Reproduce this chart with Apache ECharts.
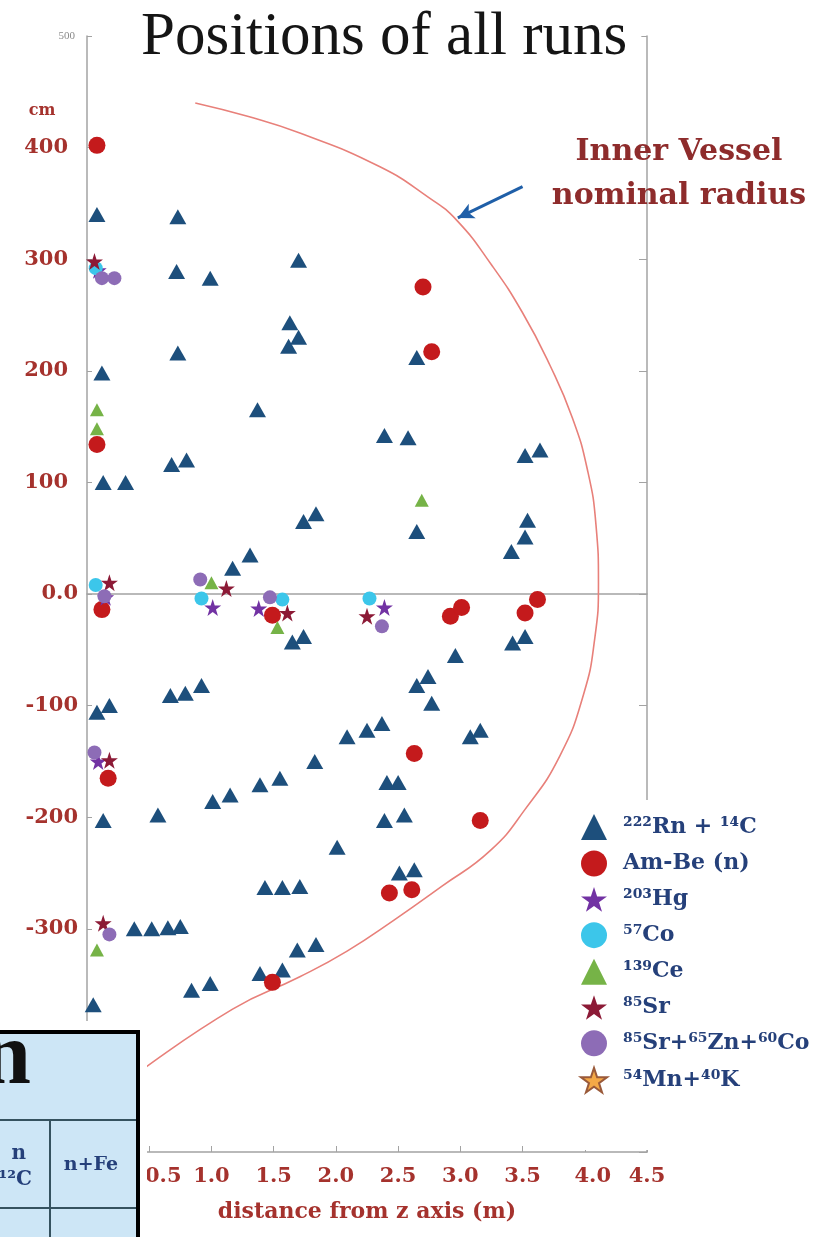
<!DOCTYPE html>
<html>
<head>
<meta charset="utf-8">
<style>
  html, body { margin: 0; padding: 0; background: #fff; }
  #chart { width: 830px; height: 1237px; }
</style>
<script src="https://cdn.jsdelivr.net/npm/echarts@6/dist/echarts.min.js"></script>
</head>
<body>
<div id="chart"></div>
<script>
// Source positions: [distance from z axis (m), height z (cm)]
const rnC = [
  [0.08, 340], [0.73, 338],
  [0.72, 289], [0.99, 283], [1.70, 299],
  [1.63, 243], [1.70, 230], [1.62, 222],
  [0.73, 216], [0.12, 198], [2.65, 212],
  [1.37, 165], [2.39, 142], [2.58, 140],
  [3.52, 124], [3.64, 129],
  [0.68, 116], [0.80, 120], [0.13, 100], [0.31, 100],
  [1.74, 65], [1.84, 72], [2.65, 56],
  [3.54, 66], [3.52, 51], [3.41, 38],
  [1.17, 23], [1.31, 35],
  [1.65, -43], [1.74, -38], [3.42, -44], [3.52, -38],
  [2.96, -55], [2.65, -82], [2.74, -74], [2.77, -98],
  [0.67, -91], [0.79, -89], [0.92, -82],
  [0.08, -106], [0.18, -100],
  [2.09, -128], [2.25, -122], [2.37, -116],
  [3.08, -128], [3.16, -122],
  [1.83, -150], [1.39, -171], [1.55, -165],
  [2.41, -169], [2.50, -169],
  [0.13, -203], [0.57, -198], [1.01, -186], [1.15, -180],
  [2.39, -203], [2.55, -198], [2.01, -227],
  [2.51, -250], [2.63, -247],
  [1.43, -263], [1.57, -263], [1.71, -262],
  [0.38, -300], [0.52, -300], [0.65, -299], [0.75, -298],
  [1.69, -319], [1.84, -314],
  [0.84, -355], [0.99, -349], [1.39, -340], [1.57, -337],
  [0.05, -368]
];
const amBe = [
  [0.08, 402], [2.70, 275], [2.77, 217], [0.08, 134],
  [0.12, -14], [1.49, -19], [2.92, -20], [3.01, -12],
  [3.52, -17], [3.62, -5], [2.63, -143], [0.17, -165],
  [3.16, -203], [2.43, -268], [2.61, -265], [1.49, -348]
];
const hg203 = [[0.09, 290], [0.15, -3], [1.01, -12], [1.38, -13], [2.39, -12], [0.09, -150]];
const co57 = [[0.07, 292], [0.07, 8], [0.92, -4], [1.57, -5], [2.27, -4]];
const ce139 = [[0.08, 165], [0.08, 148], [1.00, 10], [1.53, -30], [2.69, 84], [0.08, -319]];
const sr85 = [[0.06, 298], [0.18, 10], [1.12, 5], [1.61, -17], [2.25, -20], [0.18, -149], [0.13, -295]];
const srZnCo = [[0.12, 283], [0.22, 283], [0.14, -2], [0.91, 13], [1.47, -3], [2.37, -29], [0.06, -142], [0.18, -305]];
const mnK = [];

// Inner vessel outline (m, cm), top to bottom
const vesselArc = [
  [0.87, 440], [1.29, 428], [1.71, 413], [2.35, 383], [2.75, 355],
  [2.97, 335], [3.25, 295], [3.50, 252], [3.72, 205], [3.90, 158],
  [4.02, 112], [4.09, 62], [4.11, 10], [4.08, -40], [3.99, -90],
  [3.80, -145], [3.52, -193], [3.24, -230], [2.85, -262], [2.47, -292],
  [2.09, -320], [1.71, -343], [1.17, -372], [0.40, -430]
];
const arrowFrom = [3.50, 365];
const arrowTo = [2.98, 337];

const seriesNames = ['²²²Rn + ¹⁴C', 'Am-Be (n)', '²⁰³Hg', '⁵⁷Co', '¹³⁹Ce', '⁸⁵Sr', '⁸⁵Sr+⁶⁵Zn+⁶⁰Co', '⁵⁴Mn+⁴⁰K'];

const STAR = 'path://M50,2 L61.8,37.6 L99,37.6 L68.9,59.6 L80.3,95 L50,73.2 L19.7,95 L31.1,59.6 L1,37.6 L38.2,37.6 Z';
const labelRed = '#a5322d';
const legendBlue = '#25407a';
const boldSerif = { fontFamily: 'DejaVu Serif', fontWeight: 'bold', fontSize: 21, color: labelRed };

function scatter(name, data, symbol, size, color, border) {
  return {
    name: name, type: 'scatter', data: data,
    symbol: symbol, symbolSize: size,
    itemStyle: {
      color: color, opacity: 1,
      borderColor: border || color, borderWidth: border ? 1.5 : 0
    },
    silent: true
  };
}

const chart = echarts.init(document.getElementById('chart'), null, { renderer: 'canvas' });

const option = {
  animation: false,
  backgroundColor: '#fff',
  title: {
    text: 'Positions of all runs',
    left: 127, top: 3,
    padding: [4, 14, 4, 14],
    backgroundColor: '#fff',
    textStyle: { fontFamily: 'Liberation Serif', fontSize: 61, fontWeight: 'normal', color: '#151515' }
  },
  grid: { left: 87, right: 183, top: 36, bottom: 85, containLabel: false },
  legend: {
    orient: 'vertical', left: 575, top: 809,
    itemWidth: 26, itemHeight: 26, itemGap: 10.5,
    data: seriesNames,
    textStyle: { fontFamily: 'DejaVu Serif', fontWeight: 'bold', fontSize: 22, color: legendBlue, padding: [0, 0, 0, 11] }
  },
  xAxis: [{
    type: 'value', min: 0, max: 4.5, interval: 0.5,
    name: 'distance from z axis (m)', nameLocation: 'middle', nameGap: 49,
    nameTextStyle: Object.assign({}, boldSerif, { fontSize: 22 }),
    axisLine: { show: true, onZero: false, lineStyle: { color: '#a3a3a3', width: 1.5 } },
    axisTick: { show: true, inside: true, length: 6, lineStyle: { color: '#a3a3a3' } },
    axisLabel: {
      margin: 14,
      formatter: function (v) {
        const t = v.toFixed(1);
        if (v === 0.5) return '{a|' + t + '}';
        if (v === 4) return '{b|' + t + '}';
        return '{c|' + t + '}';
      },
      rich: {
        a: Object.assign({}, boldSerif, { padding: [0, 0, 0, 28] }),
        b: Object.assign({}, boldSerif, { padding: [0, 0, 0, 16] }),
        c: boldSerif
      }
    },
    splitLine: { show: false }
  }, {
    type: 'value', min: 0, max: 4.5, interval: 0.5, position: 'top',
    axisLine: { show: true, lineStyle: { color: '#a3a3a3', width: 1.5 } },
    axisTick: { show: false }, axisLabel: { show: false }, splitLine: { show: false }
  }],
  yAxis: [{
    type: 'value', min: -500, max: 500, interval: 100,
    axisLine: { show: true, onZero: false, lineStyle: { color: '#a3a3a3', width: 1.5 } },
    axisTick: { show: true, inside: true, length: 5, lineStyle: { color: '#a3a3a3' } },
    axisLabel: {
      margin: 9,
      formatter: function (v) {
        if (v === 500) return '{s|500}';
        if (v === 0) return '{n|0.0}';
        if (v > 0) return '{p|' + v + '}';
        return '{n|' + v + '}';
      },
      rich: {
        s: { fontFamily: 'Liberation Serif', fontSize: 11, color: '#8a8a8a', padding: [0, 3, 0, 0] },
        p: Object.assign({}, boldSerif, { padding: [0, 10, 0, 0] }),
        n: boldSerif
      }
    },
    splitLine: { show: false }
  }, {
    type: 'value', min: -500, max: 500, interval: 100, position: 'right',
    axisLine: { show: true, onZero: false, lineStyle: { color: '#a3a3a3', width: 1.5 } },
    axisTick: { show: true, inside: true, length: 8, lineStyle: { color: '#a3a3a3' } },
    axisLabel: { show: false }, splitLine: { show: false }
  }],
  series: [
    {
      name: 'vessel', type: 'line', data: vesselArc, smooth: 0.5,
      showSymbol: false, symbol: 'none', silent: true, z: 1,
      lineStyle: { color: '#e8807a', width: 1.6 },
      markLine: {
        silent: true, symbol: ['none', 'arrow'], symbolSize: [12, 16],
        label: { show: false },
        lineStyle: { color: '#1f5fa8', width: 3, type: 'solid' },
        data: [[{ coord: arrowFrom }, { coord: arrowTo }]]
      }
    },
    scatter(seriesNames[0], rnC, 'triangle', [17, 15], '#1d4f7c'),
    scatter(seriesNames[1], amBe, 'circle', 17, '#c41a1c'),
    scatter(seriesNames[2], hg203, STAR, 17, '#7232a3'),
    scatter(seriesNames[3], co57, 'circle', 14, '#3cc6ea'),
    scatter(seriesNames[4], ce139, 'triangle', [14, 13], '#76b347'),
    scatter(seriesNames[5], sr85, STAR, 17, '#8c1a36'),
    scatter(seriesNames[6], srZnCo, 'circle', 14, '#8d6cb6'),
    scatter(seriesNames[7], mnK, STAR, 17, '#f4a947', '#9a5a3a')
  ],
  graphic: [
    // white backing behind the legend
    { type: 'rect', z: 3, shape: { x: 556, y: 800, width: 274, height: 350 }, style: { fill: '#fff' } },
    // unit label on the height axis
    { type: 'text', z: 10, style: { x: 42, y: 111, text: 'cm', align: 'center', verticalAlign: 'middle',
      font: 'bold 16px "DejaVu Serif"', fill: labelRed } },
    // vessel annotation
    { type: 'text', z: 10, style: { x: 679, y: 152, text: 'Inner Vessel', align: 'center', verticalAlign: 'middle',
      font: 'bold 30px "DejaVu Serif"', fill: '#8e2c2c' } },
    { type: 'text', z: 10, style: { x: 679, y: 196, text: 'nominal radius', align: 'center', verticalAlign: 'middle',
      font: 'bold 30px "DejaVu Serif"', fill: '#8e2c2c' } },
    // summary table in the lower-left corner
    { type: 'group', z: 20, children: [
      { type: 'rect', z: 20, shape: { x: 0, y: 1021, width: 147, height: 216 }, style: { fill: '#fff' } },
      { type: 'rect', z: 21, shape: { x: -6, y: 1032, width: 144, height: 220 },
        style: { fill: '#cde6f6', stroke: '#000', lineWidth: 4 } },
      { type: 'line', z: 22, shape: { x1: 0, y1: 1120, x2: 136, y2: 1120 }, style: { stroke: '#35525f', lineWidth: 2 } },
      { type: 'line', z: 22, shape: { x1: 0, y1: 1208, x2: 136, y2: 1208 }, style: { stroke: '#35525f', lineWidth: 2 } },
      { type: 'line', z: 22, shape: { x1: 50, y1: 1120, x2: 50, y2: 1237 }, style: { stroke: '#35525f', lineWidth: 2 } },
      { type: 'text', z: 23, style: { x: 31, y: 1060, text: 'n', align: 'right', verticalAlign: 'middle',
        font: 'bold 88px "Liberation Serif"', fill: '#111' } },
      { type: 'text', z: 23, style: { x: 26, y: 1154, text: 'n', align: 'right', verticalAlign: 'middle',
        font: 'bold 20px "DejaVu Serif"', fill: legendBlue } },
      { type: 'text', z: 23, style: { x: 32, y: 1180, text: '¹²C', align: 'right', verticalAlign: 'middle',
        font: 'bold 20px "DejaVu Serif"', fill: legendBlue } },
      { type: 'text', z: 23, style: { x: 91, y: 1165, text: 'n+Fe', align: 'center', verticalAlign: 'middle',
        font: 'bold 19px "DejaVu Serif"', fill: legendBlue } }
    ] }
  ]
};

chart.setOption(option);
</script>
</body>
</html>
